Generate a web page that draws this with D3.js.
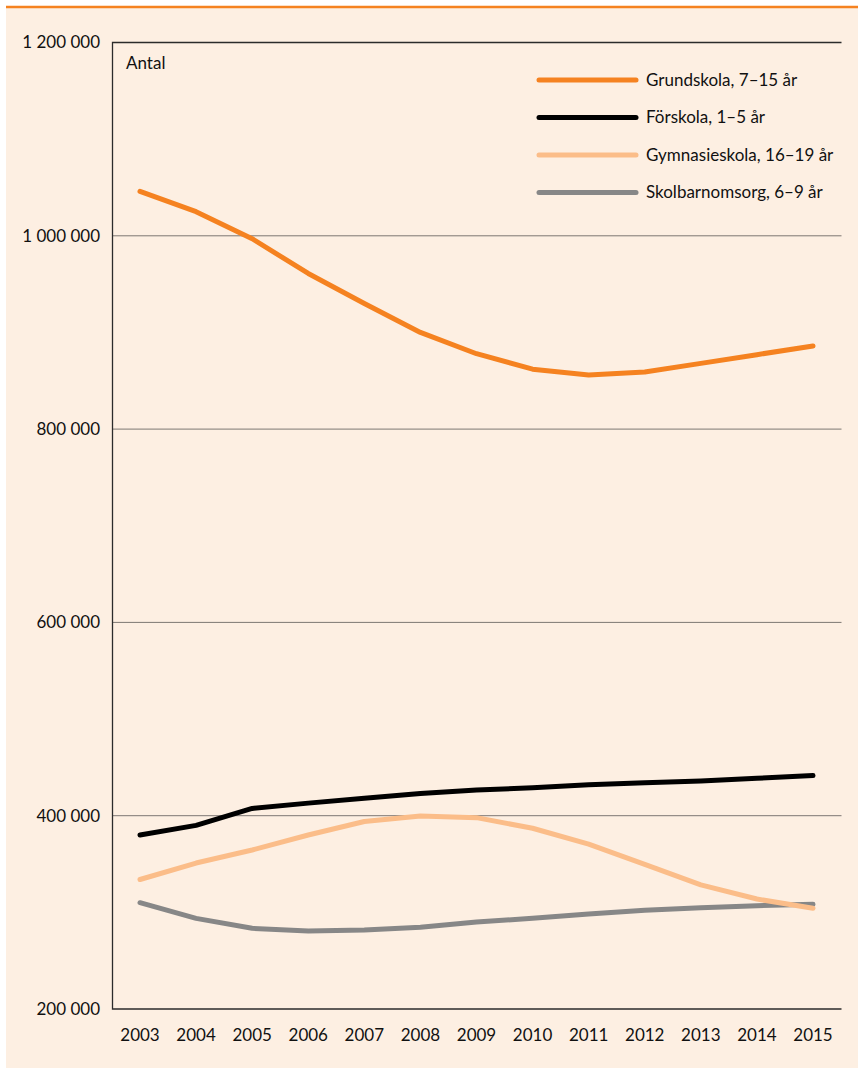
<!DOCTYPE html>
<html>
<head>
<meta charset="utf-8">
<script src="https://cdn.jsdelivr.net/npm/d3@7"></script>
<style>
  html, body { margin: 0; padding: 0; background: #fff; }
  svg { display: block; }
  text { font-family: Lato, "Open Sans", sans-serif; fill: #111; }
</style>
</head>
<body>
<svg id="chart" width="858" height="1070"></svg>
<script>
// years on the x axis
const years = [2003, 2004, 2005, 2006, 2007, 2008, 2009, 2010, 2011, 2012, 2013, 2014, 2015]

// number of children per school form
const grundskola     = [1046000, 1025000, 997000, 961000, 930000, 900000, 878000, 862000, 856000, 859000, 868000, 877000, 886000]
const forskola       = [380000, 390000, 407500, 413000, 418000, 423000, 426500, 429000, 432000, 434000, 436000, 438700, 441500]
const gymnasieskola  = [334000, 351000, 364500, 380000, 394000, 399700, 398000, 387000, 370500, 349700, 328500, 313800, 304200]
const skolbarnomsorg = [310000, 293800, 283500, 280700, 281700, 284500, 290000, 293800, 298300, 302100, 304800, 306900, 308300]

const yTicks = [200000, 400000, 600000, 800000, 1000000, 1200000]

const series = [
  {name: "Grundskola, 7–15 år",     values: grundskola,     color: "#f58220"},
  {name: "Förskola, 1–5 år",        values: forskola,       color: "#000000"},
  {name: "Gymnasieskola, 16–19 år", values: gymnasieskola,  color: "#fbbd89"},
  {name: "Skolbarnomsorg, 6–9 år",  values: skolbarnomsorg, color: "#878787"}
]

const svg = d3.select("#chart")

// peach panel with orange rule on top
svg.append("rect")
  .attr("x", 6).attr("y", 7)
  .attr("width", 852).attr("height", 1061)
  .attr("fill", "#fdefe2")
svg.append("line")
  .attr("x1", 6).attr("x2", 858)
  .attr("y1", 7).attr("y2", 7)
  .attr("stroke", "#f58220")
  .attr("stroke-width", 2.5)

const plot = {left: 112.5, right: 841.5, top: 42.5, bottom: 1009}

const x = d3.scaleLinear().domain([2003, 2015]).range([140, 813])
const y = d3.scaleLinear().domain([200000, 1200000]).range([plot.bottom, plot.top])

// swedish style thousands: "1 200 000"
const fmt = d3.formatLocale({decimal: ",", thousands: " ", grouping: [3], currency: ["", " kr"]}).format(",")

// grid lines
svg.append("g")
  .selectAll("line")
  .data(yTicks.filter(d => d > 200000 && d < 1200000))
  .join("line")
  .attr("x1", plot.left).attr("x2", plot.right)
  .attr("y1", d => y(d)).attr("y2", d => y(d))
  .attr("stroke", "#7d7773")
  .attr("stroke-width", 1)

// frame: top, left and bottom
const frame = svg.append("g").attr("stroke", "#2b2b2b").attr("stroke-width", 1.3).attr("fill", "none")
frame.append("path")
  .attr("d", `M${plot.right},${y(1200000)}H${plot.left}V${y(200000)}H${plot.right}`)

// y tick labels
svg.append("g")
  .selectAll("text")
  .data(yTicks)
  .join("text")
  .attr("x", 100)
  .attr("y", d => y(d))
  .attr("dy", "0.35em")
  .attr("text-anchor", "end")
  .attr("font-size", 17)
  .text(d => fmt(d))

// x tick labels
svg.append("g")
  .selectAll("text")
  .data(years)
  .join("text")
  .attr("x", d => x(d))
  .attr("y", 1041)
  .attr("text-anchor", "middle")
  .attr("font-size", 17)
  .text(d => d)

svg.append("text")
  .attr("x", 126).attr("y", 69)
  .attr("font-size", 17)
  .text("Antal")

// lines
const line = d3.line()
  .x((d, i) => x(years[i]))
  .y(d => y(d))

// draw in order: grey, light, black, orange on top
const drawOrder = [series[3], series[2], series[1], series[0]]
svg.append("g")
  .selectAll("path")
  .data(drawOrder)
  .join("path")
  .attr("d", d => line(d.values))
  .attr("fill", "none")
  .attr("stroke", d => d.color)
  .attr("stroke-width", 5)
  .attr("stroke-linecap", "round")
  .attr("stroke-linejoin", "round")

// legend
const legend = svg.append("g").attr("transform", "translate(539, 80)")
const item = legend.selectAll("g")
  .data(series)
  .join("g")
  .attr("transform", (d, i) => `translate(0, ${i * 37.5})`)
item.append("line")
  .attr("x1", 0).attr("x2", 97)
  .attr("stroke", d => d.color)
  .attr("stroke-width", 5)
  .attr("stroke-linecap", "round")
item.append("text")
  .attr("x", 107)
  .attr("dy", "0.35em")
  .attr("font-size", 17)
  .text(d => d.name)
</script>
</body>
</html>
